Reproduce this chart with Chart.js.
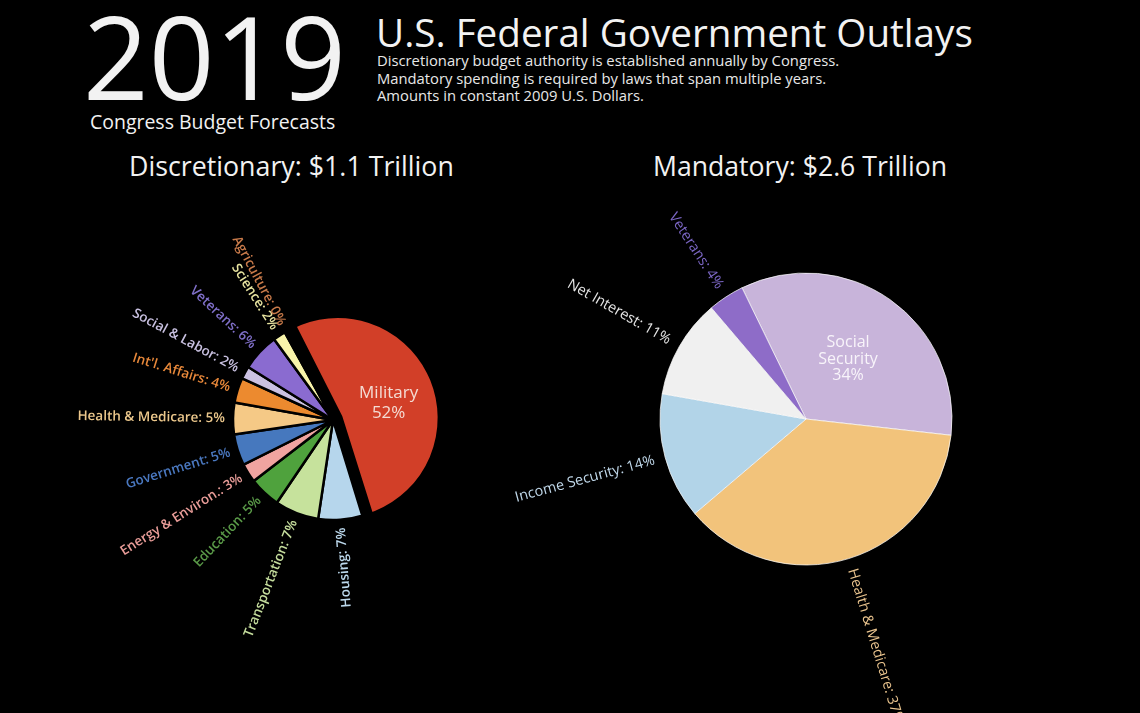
<!DOCTYPE html>
<html>
<head>
<meta charset="utf-8">
<script src="https://cdn.jsdelivr.net/npm/chart.js@4.4.0/dist/chart.umd.min.js"></script>
<style>
  html, body { margin: 0; padding: 0; background: #000; width: 1140px; height: 713px; overflow: hidden; }
  body { position: relative; font-family: 'Open Sans', sans-serif; color: #f2f2f2; }
  .txt { position: absolute; white-space: nowrap; line-height: 1; }
  canvas { position: absolute; }
</style>
</head>
<body>
<div class="txt" id="year">2019</div>
<div class="txt" id="forecast">Congress Budget Forecasts</div>
<div class="txt" id="title">U.S. Federal Government Outlays</div>
<div class="txt" id="desc1">Discretionary budget authority is established annually by Congress.</div>
<div class="txt" id="desc2">Mandatory spending is required by laws that span multiple years.</div>
<div class="txt" id="desc3">Amounts in constant 2009 U.S. Dollars.</div>
<div class="txt" id="discTitle">Discretionary: $1.1 Trillion</div>
<div class="txt" id="mandTitle">Mandatory: $2.6 Trillion</div>

<canvas id="discChart" width="666" height="580" style="left:0px;top:130px"></canvas>
<canvas id="mandChart" width="612" height="588" style="left:500px;top:125px"></canvas>

<script>
// discretionary spending, clockwise from Military
const discLabels = ['Military', 'Housing', 'Transportation', 'Education', 'Energy & Environ.',
  'Government', 'Health & Medicare', "Int'l. Affairs", 'Social & Labor', 'Veterans', 'Science', 'Agriculture'];
const discValues = [52, 7, 7, 5, 3, 5, 5, 4, 2, 6, 2, 0.4];
const discColors = ['#d23f28', '#b6d6ec', '#c6e29c', '#4fa23d', '#f0a4a0', '#4678be',
  '#f5c986', '#ec8a2f', '#cbc1e2', '#8a6bd0', '#f8f4aa', '#b86c3a'];
const discTextColors = ['#f4dcd4', '#bcd8ec', '#c4dc9c', '#5a9a48', '#e89c98', '#4a78c0',
  '#ecc88c', '#e8883a', '#c8c0e0', '#7f6fc8', '#e8e4a0', '#c87a4a'];

// mandatory spending, clockwise from Social Security
const mandLabels = ['Social Security', 'Health & Medicare', 'Income Security', 'Net Interest', 'Veterans'];
const mandValues = [34, 37, 14, 11, 4];
const mandColors = ['#c8b4da', '#f2c37b', '#b2d4e8', '#f0f0f0', '#8e6cc8'];
const mandTextColors = ['#f8f4fa', '#eac48e', '#c0d8ea', '#e6e6e6', '#7b66c4'];

function place(id, x, baseline, size, width) {
  const el = document.getElementById(id);
  el.style.fontSize = size + 'px';
  if (width) {
    size = size * width / el.offsetWidth;
    el.style.fontSize = size + 'px';
  }
  el.style.left = x + 'px';
  el.style.top = (baseline - 0.888 * size) + 'px';
  return size;
}

place('year', 83, 100, 115);
place('forecast', 90, 129, 19, 245);
place('title', 376, 47, 38, 597);
const ds = place('desc1', 377, 66, 14, 463);
place('desc2', 377, 84, ds);
place('desc3', 377, 101, ds);
['desc1', 'desc2', 'desc3'].forEach((id) => {
  document.getElementById(id).style.color = '#e8e8e8';
});
place('discTitle', 129, 177, 22, 325);
place('mandTitle', 653, 177, 22, 294);

// labels along each slice's bisector, one slice gets its label inside
const radialLabels = {
  id: 'radialLabels',
  afterDatasetsDraw(chart, args, opts) {
    const ctx = chart.ctx;
    const meta = chart.getDatasetMeta(0);
    const values = chart.data.datasets[0].data;
    meta.data.forEach((arc, i) => {
      const p = arc.getProps(['x', 'y', 'startAngle', 'endAngle', 'outerRadius'], true);
      const mid = (p.startAngle + p.endAngle) / 2;
      const a = Math.atan2(Math.sin(mid), Math.cos(mid));
      const pct = Math.round(values[i]) + '%';
      ctx.save();
      if (i === opts.insideIndex) {
        const d = p.outerRadius * opts.insideDist;
        const cx = p.x + Math.cos(mid + opts.insideTurn) * d;
        const cy = p.y + Math.sin(mid + opts.insideTurn) * d;
        const lines = chart.data.labels[i].split(' ').concat(pct);
        ctx.font = opts.insideFont;
        ctx.fillStyle = opts.colors[i];
        ctx.textAlign = 'center';
        ctx.textBaseline = 'middle';
        lines.forEach((l, k) => {
          ctx.fillText(l, cx, cy + (k - (lines.length - 1) / 2) * opts.insideLineHeight);
        });
      } else {
        const r = p.outerRadius + opts.gap;
        const text = chart.data.labels[i] + ': ' + pct;
        ctx.translate(p.x, p.y);
        ctx.font = opts.font;
        ctx.fillStyle = opts.colors[i];
        ctx.textBaseline = 'middle';
        if (a > -Math.PI / 2 && a < opts.flipAngle) {
          ctx.rotate(a);
          ctx.textAlign = 'left';
          ctx.fillText(text, r, 0);
        } else {
          ctx.rotate(a + Math.PI);
          ctx.textAlign = 'right';
          ctx.fillText(text, -r, 0);
        }
      }
      ctx.restore();
    });
  }
};

const discChart = new Chart(document.getElementById('discChart'), {
  type: 'pie',
  data: {
    labels: discLabels,
    datasets: [{
      data: discValues,
      backgroundColor: discColors,
      borderColor: '#000',
      // military is pulled out; its wide black border keeps it the same size as the rest
      borderWidth: discValues.map((v, i) => (i === 0 ? 10 : 2.5)),
      offset: discValues.map((v, i) => (i === 0 ? 20 : 0)),
    }],
  },
  options: {
    responsive: false,
    animation: false,
    events: [],
    rotation: -27.3,
    radius: 100,
    layout: { padding: 0 },
    plugins: {
      legend: { display: false },
      tooltip: { enabled: false },
      radialLabels: {
        insideIndex: 0,
        insideDist: 0.58,
        insideTurn: 0.1,
        insideFont: '17px "Open Sans"',
        insideLineHeight: 20,
        font: '600 13.5px "Open Sans"',
        gap: 8,
        flipAngle: 78 * Math.PI / 180,
        colors: discTextColors,
      },
    },
  },
  plugins: [radialLabels],
});

const mandChart = new Chart(document.getElementById('mandChart'), {
  type: 'pie',
  data: {
    labels: mandLabels,
    datasets: [{
      data: mandValues,
      backgroundColor: mandColors,
      borderColor: 'rgba(255,255,255,0.7)',
      borderWidth: 1,
    }],
  },
  options: {
    responsive: false,
    animation: false,
    events: [],
    rotation: -26,
    radius: 146,
    layout: { padding: 0 },
    plugins: {
      legend: { display: false },
      tooltip: { enabled: false },
      radialLabels: {
        insideIndex: 0,
        insideDist: 0.5,
        insideTurn: 0,
        insideFont: '16px "Open Sans"',
        insideLineHeight: 16.5,
        font: '14.5px "Open Sans"',
        gap: 11,
        flipAngle: 78 * Math.PI / 180,
        colors: mandTextColors,
      },
    },
  },
  plugins: [radialLabels],
});
</script>
</body>
</html>
